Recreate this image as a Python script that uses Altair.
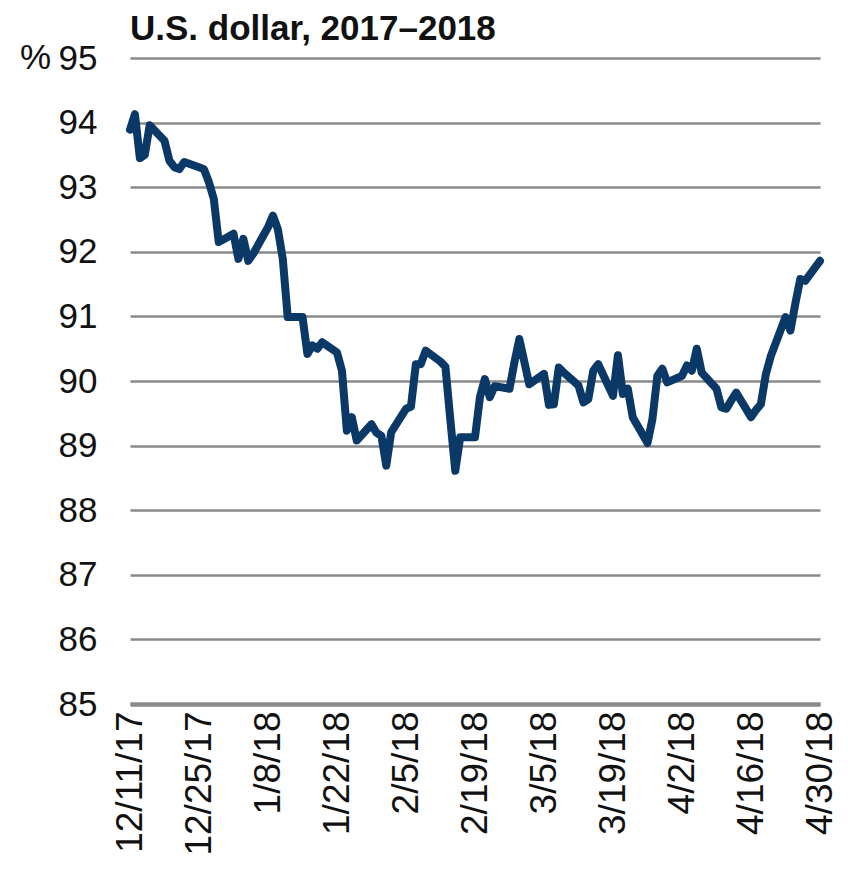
import altair as alt
import pandas as pd

TITLE = "U.S. dollar, 2017–2018"
Y_UNIT = "%"
START = "2017-12-11"
END = "2018-04-30"

# weekday closes, one list per week (Mon..Fri)
week_values = [
    [93.89, 94.13, 93.45, 93.50, 93.96],   # 12/11
    [93.72, 93.41, 93.31, 93.28, 93.39],   # 12/18
    [93.31, 93.28, 93.08, 92.82, 92.15],   # 12/25
    [92.28, 91.89, 92.20, 91.86, 91.97],   # 1/1
    [92.38, 92.56, 92.35, 91.89, 90.99],   # 1/8
    [90.99, 90.42, 90.55, 90.50, 90.60],   # 1/15
    [90.44, 90.16, 89.23, 89.44, 89.08],   # 1/22
    [89.33, 89.20, 89.15, 88.69, 89.21],   # 1/29
    [89.57, 89.60, 90.26, 90.26, 90.47],   # 2/5
    [90.30, 90.22, 89.40, 88.61, 89.13],   # 2/12
    [89.13, 89.75, 90.03, 89.75, 89.92],   # 2/19
    [89.88, 90.29, 90.65, 90.30, 89.95],   # 2/26
    [90.11, 89.63, 89.64, 90.21, 90.13],   # 3/5
    [89.93, 89.67, 89.72, 90.16, 90.26],   # 3/12
    [89.77, 90.40, 89.80, 89.88, 89.44],   # 3/19
    [89.04, 89.41, 90.08, 90.19, 89.98],   # 3/26
    [90.08, 90.24, 90.16, 90.50, 90.13],   # 4/2
    [89.88, 89.59, 89.57, 89.70, 89.82],   # 4/9
    [89.44, 89.55, 89.64, 90.10, 90.38],   # 4/16
    [90.99, 90.78, 91.20, 91.58, 91.55],   # 4/23
    [91.86],                               # 4/30
]

tick_dates = [
    (2017, 12, 11), (2017, 12, 25), (2018, 1, 8), (2018, 1, 22),
    (2018, 2, 5), (2018, 2, 19), (2018, 3, 5), (2018, 3, 19),
    (2018, 4, 2), (2018, 4, 16), (2018, 4, 30),
]
y_ticks = [85, 86, 87, 88, 89, 90, 91, 92, 93, 94, 95]

values = [v for w in week_values for v in w]
dates = pd.bdate_range(START, END)
df = pd.DataFrame({"date": dates[: len(values)], "value": values})


def dt(t):
    return alt.DateTime(year=t[0], month=t[1], date=t[2])


GRID = "#8a8a8a"
FONT = "Liberation Sans"

line = alt.Chart(df).mark_line(
    color="#0a3867", strokeWidth=8, strokeJoin="round", strokeCap="round"
).encode(
    x=alt.X(
        "date:T",
        scale=alt.Scale(domain=[dt(tick_dates[0]), dt(tick_dates[-1])], nice=False),
        axis=alt.Axis(
            values=[dt(t) for t in tick_dates],
            format="%-m/%-d/%y",
            labelAngle=-90,
            labelFontSize=37,
            labelFont=FONT,
            labelColor="#111111",
            labelPadding=7,
            ticks=False,
            tickSize=0,
            grid=False,
            domain=True,
            domainColor=GRID,
            domainWidth=4.5,
            title=None,
        ),
    ),
    y=alt.Y(
        "value:Q",
        scale=alt.Scale(domain=[85, 95], nice=False, zero=False),
        axis=alt.Axis(
            values=y_ticks,
            labelFontSize=35,
            labelFont=FONT,
            labelColor="#111111",
            labelPadding=33,
            ticks=False,
            tickSize=0,
            domain=False,
            grid=True,
            gridColor=GRID,
            gridWidth=2.5,
            title=None,
        ),
    ),
)

title = alt.Chart(pd.DataFrame({"t": [TITLE]})).mark_text(
    align="left", baseline="alphabetic", fontSize=35, fontWeight="bold",
    font=FONT, color="#111111"
).encode(text="t:N", x=alt.value(0), y=alt.value(-18))

unit = alt.Chart(pd.DataFrame({"t": [Y_UNIT]})).mark_text(
    align="left", baseline="middle", fontSize=35, font=FONT, color="#111111"
).encode(text="t:N", x=alt.value(-110), y=alt.value(0))

chart = alt.layer(line, title, unit).properties(
    width=690,
    height=646,
    autosize=alt.AutoSizeParams(type="none"),
    padding={"left": 122, "top": 50, "right": 20, "bottom": 157},
).configure_view(stroke=None)

chart.save("out.html", embed_options={"renderer": "svg", "actions": False})
